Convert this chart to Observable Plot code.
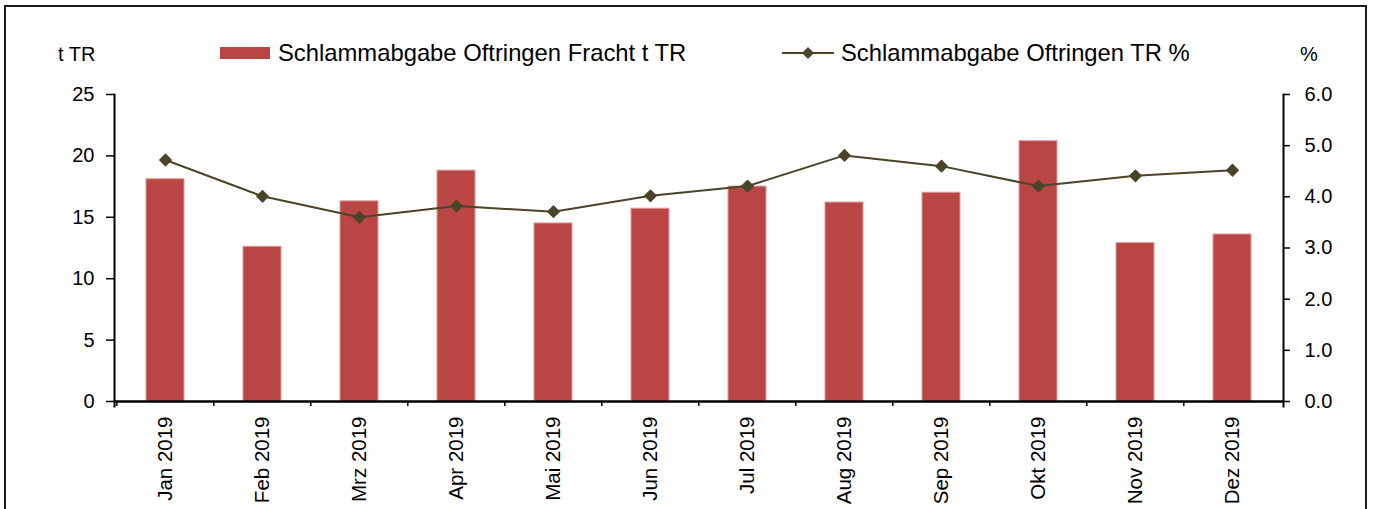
<!DOCTYPE html>
<html>
<head>
<meta charset="utf-8">
<script src="https://cdn.jsdelivr.net/npm/d3@7"></script>
<script src="https://cdn.jsdelivr.net/npm/@observablehq/plot@0.6"></script>
<style>
  html, body { margin: 0; padding: 0; background: #fff; }
  #wrap { position: relative; width: 1373px; height: 509px; overflow: hidden; background: #fff;
          font-family: "Liberation Sans", Arial, sans-serif; color: #000; }
  #border { position: absolute; left: 4px; top: 5px; width: 1359px; height: 540px; border: 2px solid #1a1a1a; }
  .lab { position: absolute; white-space: nowrap; line-height: 1; }
  #chart { position: absolute; left: 0; top: 0; }
</style>
</head>
<body>
<div id="wrap">
  <div id="border"></div>
  <div id="chart"></div>
  <div class="lab" id="unitL" style="left:58px; top:44px; font-size:20px;"></div>
  <div class="lab" id="unitR" style="left:1300px; top:44px; font-size:20px;"></div>
  <div class="lab" style="left:220px; top:47px; width:50px; height:12px; background:#B94644;"></div>
  <div class="lab" id="leg1" style="left:278px; top:40.5px; font-size:23.8px;"></div>
  <svg class="lab" style="left:780px; top:45px;" width="56" height="16">
    <line x1="2" y1="8" x2="54" y2="8" stroke="#4A4429" stroke-width="2"></line>
    <path d="M28,2 L34,8 L28,14 L22,8 Z" fill="#4A4429"></path>
  </svg>
  <div class="lab" id="leg2" style="left:841px; top:40.5px; font-size:23.8px;"></div>
</div>
<script>
const months = ["Jan 2019","Feb 2019","Mrz 2019","Apr 2019","Mai 2019","Jun 2019",
                "Jul 2019","Aug 2019","Sep 2019","Okt 2019","Nov 2019","Dez 2019"];
const frachtTR = [18.1, 12.6, 16.3, 18.8, 14.5, 15.7, 17.5, 16.2, 17.0, 21.2, 12.9, 13.6];
const trPercent = [4.72, 4.01, 3.6, 3.82, 3.71, 4.02, 4.21, 4.81, 4.6, 4.21, 4.41, 4.52];
const leftTicks = [0, 5, 10, 15, 20, 25];
const rightTicks = [0, 1, 2, 3, 4, 5, 6];
const leftMax = 25, rightMax = 6;
const seriesBar = "Schlammabgabe Oftringen Fracht t TR";
const seriesLine = "Schlammabgabe Oftringen TR %";
const unitLeft = "t TR", unitRight = "%";

document.getElementById("leg1").textContent = seriesBar;
document.getElementById("leg2").textContent = seriesLine;
document.getElementById("unitL").textContent = unitLeft;
document.getElementById("unitR").textContent = unitRight;

const data = months.map((m, i) => ({month: m, fracht: frachtTR[i], pct: trPercent[i]}));
const k = leftMax / rightMax;

const W = 1373, H = 509, mL = 114, mR = 90, mT = 94, mB = 108;
const step = (W - mL - mR) / months.length;
const lineColor = "#4A4429";

const chart = Plot.plot({
  width: W, height: H,
  marginLeft: mL, marginRight: mR, marginTop: mT, marginBottom: mB,
  style: {fontFamily: "'Liberation Sans', Arial, sans-serif", fontSize: "20px", color: "#000", background: "transparent", overflow: "visible"},
  x: {domain: months, paddingInner: 0.61, paddingOuter: 0.305, label: null},
  y: {domain: [0, leftMax], label: null},
  marks: [
    Plot.barY(data, {x: "month", y: "fracht", fill: "#B94644", stroke: "#DE9A98", strokeWidth: 1}),
    Plot.line(data, {x: "month", y: d => d.pct * k, stroke: lineColor, strokeWidth: 2}),
    Plot.dot(data, {x: "month", y: d => d.pct * k, symbol: "diamond2", r: 6, fill: lineColor, stroke: "none"}),
    Plot.axisY(leftTicks, {anchor: "left", tickSize: 8, tickPadding: 12, strokeWidth: 1.5, fontSize: 20, label: null}),
    Plot.axisY(rightTicks.map(v => v * k), {anchor: "right", tickSize: 6, tickPadding: 15, strokeWidth: 1.5, fontSize: 20,
      tickFormat: d => (d / k).toFixed(1), label: null}),
    Plot.axisX({tickSize: 0, tickRotate: -90, tickPadding: 15, fontSize: 20.5, label: null}),
    Plot.axisX({tickSize: 5, strokeWidth: 1.5, tickFormat: () => "", dx: -step / 2, label: null}),
    Plot.frame({anchor: "left", strokeWidth: 2, insetBottom: -5}),
    Plot.frame({anchor: "right", strokeWidth: 2, insetBottom: -5}),
    Plot.ruleY([0], {strokeWidth: 2.5})
  ]
});
document.getElementById("chart").appendChild(chart);
</script>
</body>
</html>
